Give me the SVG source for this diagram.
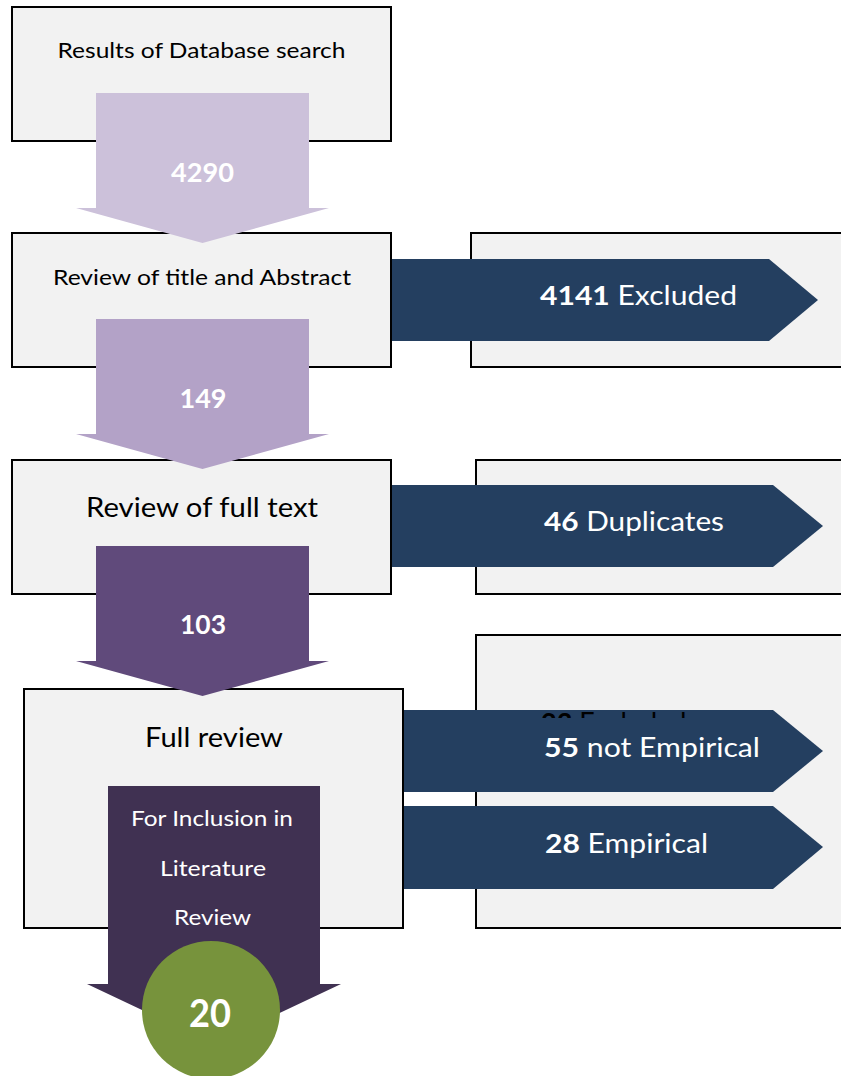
<svg xmlns="http://www.w3.org/2000/svg" width="841" height="1076" viewBox="0 0 841 1076">
<defs>
<style>
.box{fill:#f2f2f2;stroke:#000;stroke-width:2}
.t{font-family:Lato,"Open Sans",sans-serif;fill:#000}
.w{font-family:Lato,"Open Sans",sans-serif;fill:#fff}
.b{font-weight:bold}
.navy{fill:#243f60}
</style>
<clipPath id="peek"><rect x="470" y="711" width="371" height="7"/></clipPath>
</defs>
<rect width="841" height="1076" fill="#fff"/>
<g id="box-results"><rect class="box" x="12" y="7" width="379" height="134"/>
<text class="t" x="201.5" y="58" font-size="21" text-anchor="middle" textLength="288" lengthAdjust="spacingAndGlyphs">Results of Database search</text></g>
<g id="box-title"><rect class="box" x="12" y="233" width="379" height="134"/>
<text class="t" x="202" y="285" font-size="21" text-anchor="middle" textLength="298" lengthAdjust="spacingAndGlyphs">Review of title and Abstract</text></g>
<g id="box-fulltext"><rect class="box" x="12" y="460" width="379" height="134"/>
<text class="t" x="202" y="517" font-size="27" text-anchor="middle" textLength="232" lengthAdjust="spacingAndGlyphs">Review of full text</text></g>
<g id="box-fullreview"><rect class="box" x="24" y="689" width="379" height="239"/>
<text class="t" x="214" y="747" font-size="27" text-anchor="middle" textLength="138" lengthAdjust="spacingAndGlyphs">Full review</text></g>
<g id="box-excluded"><rect class="box" x="471" y="233" width="380" height="134"/></g>
<g id="box-duplicates"><rect class="box" x="476" y="460" width="375" height="134"/></g>
<g id="box-empirical"><rect class="box" x="476" y="635" width="375" height="293"/></g>
<g id="connectors">
<g id="arrow-4290"><polygon fill="#ccc1da" points="96,93 309,93 309,208 329,208 202.5,243 76,208 96,208"/>
<text class="w b" x="202.5" y="182" font-size="26" text-anchor="middle" textLength="63" lengthAdjust="spacingAndGlyphs">4290</text></g>
<g id="arrow-149"><polygon fill="#b3a2c7" points="96,319 309,319 309,434 329,434 202.5,469 76,434 96,434"/>
<text class="w b" x="203" y="408" font-size="26" text-anchor="middle" textLength="47" lengthAdjust="spacingAndGlyphs">149</text></g>
<g id="arrow-103"><polygon fill="#604a7b" points="96,546 309,546 309,661 329,661 202.5,696 76,661 96,661"/>
<text class="w b" x="203" y="634" font-size="26" text-anchor="middle" textLength="46" lengthAdjust="spacingAndGlyphs">103</text></g>
<g id="arrow-inclusion"><polygon fill="#403152" points="108,786 320,786 320,984 341,984 214,1044 87,984 108,984"/>
<text class="w" x="212" y="826" font-size="21" text-anchor="middle" textLength="162" lengthAdjust="spacingAndGlyphs">For Inclusion in</text>
<text class="w" x="213" y="876" font-size="21" text-anchor="middle" textLength="106" lengthAdjust="spacingAndGlyphs">Literature</text>
<text class="w" x="212.5" y="925" font-size="21" text-anchor="middle" textLength="77" lengthAdjust="spacingAndGlyphs">Review</text></g>
<g id="arrow-excluded"><polygon class="navy" points="392,259 769,259 818,300 769,341 392,341"/>
<text class="w" x="540" y="305" font-size="27" textLength="197" lengthAdjust="spacingAndGlyphs"><tspan class="b">4141</tspan> Excluded</text></g>
<g id="arrow-duplicates"><polygon class="navy" points="392,485 773,485 823,526 773,567 392,567"/>
<text class="w" x="544" y="531" font-size="27" textLength="180" lengthAdjust="spacingAndGlyphs"><tspan class="b">46</tspan> Duplicates</text></g>
<g id="arrow-notempirical"><polygon class="navy" points="404,710 773,710 823,751 773,792 404,792"/>
<text class="w" x="544" y="757" font-size="27" textLength="216" lengthAdjust="spacingAndGlyphs"><tspan class="b">55</tspan> not Empirical</text></g>
<g id="arrow-empirical"><polygon class="navy" points="404,806 773,806 823,847 773,889 404,889"/>
<text class="w" x="545" y="853" font-size="27" textLength="163" lengthAdjust="spacingAndGlyphs"><tspan class="b">28</tspan> Empirical</text></g>
</g>
<g id="hidden-label" clip-path="url(#peek)"><text class="t" x="541" y="732" font-size="27"><tspan class="b">23</tspan> Excluded</text></g>
<g id="circle-20"><circle cx="211" cy="1010" r="69" fill="#77933c"/>
<text class="w b" x="210" y="1027" font-size="38" text-anchor="middle" textLength="42" lengthAdjust="spacingAndGlyphs">20</text></g>
</svg>
